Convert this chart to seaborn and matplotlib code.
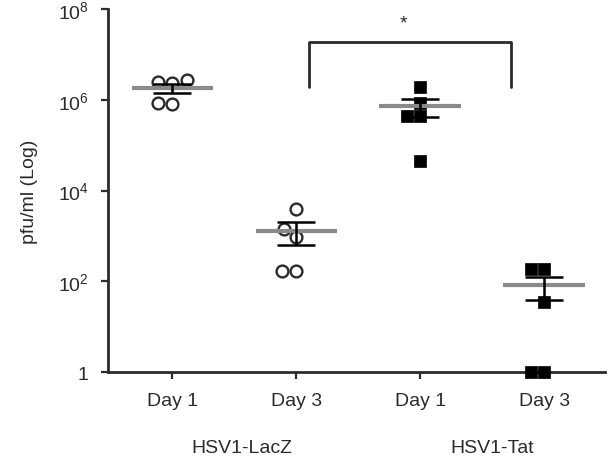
import matplotlib
matplotlib.use("Agg")
import matplotlib.pyplot as plt
import matplotlib.transforms as mtransforms
from matplotlib.ticker import NullLocator
import numpy as np
import pandas as pd
import seaborn as sns

# values (pfu/ml)
conditions = ["LacZ Day 1", "LacZ Day 3", "Tat Day 1", "Tat Day 3"]
day_labels = ["Day 1", "Day 3", "Day 1", "Day 3"]
virus_labels = ["HSV1-LacZ", "HSV1-Tat"]
lacz_day1 = [2.7e6, 2.5e6, 2.3e6, 8.5e5, 8.3e5]
lacz_day3 = [3900, 1400, 940, 170, 165]
tat_day1 = [1.9e6, 8.4e5, 4.4e5, 4.3e5, 4.4e4]
tat_day3 = [186, 184, 35, 1, 1]
y_ticks = [1, 1e2, 1e4, 1e6, 1e8]
y_ticklabels = ["1", "$10^2$", "$10^4$", "$10^6$", "$10^8$"]

df = pd.DataFrame({
    "condition": np.repeat(conditions, 5),
    "virus": np.repeat(["LacZ", "Tat"], 10),
    "pfu": lacz_day1 + lacz_day3 + tat_day1 + tat_day3,
})
stats = df.groupby("condition")["pfu"].agg(["mean", "sem"]).reindex(conditions)

sns.set_style("ticks")
plt.rcParams["font.family"] = ["Liberation Sans", "DejaVu Sans"]
plt.rcParams["mathtext.fontset"] = "custom"
plt.rcParams["mathtext.rm"] = "Liberation Sans"
plt.rcParams["mathtext.it"] = "Liberation Sans:italic"
plt.rcParams["mathtext.bf"] = "Liberation Sans:bold"

ink = "#2b2b2b"
fs = 14
fig = plt.figure(figsize=(6.1, 4.6), dpi=100)
ax = fig.add_axes([0.177, 0.189, 0.815, 0.789])
ax.set_yscale("log")

sns.swarmplot(data=df[df.virus == "LacZ"], x="condition", y="pfu", order=conditions,
              marker="o", size=8.5, color="white", edgecolor=ink, linewidth=1.7, ax=ax)
sns.swarmplot(data=df[df.virus == "Tat"], x="condition", y="pfu", order=conditions,
              marker="s", size=8.5, color="black", edgecolor="black", linewidth=0.5, ax=ax)
for coll in ax.collections:
    coll.set_clip_on(False)
    coll.set_zorder(3)

# mean line + SEM
xpos = np.arange(len(conditions))
ax.hlines(stats["mean"], xpos - 0.33, xpos + 0.33, color="#8a8a8a", lw=3, zorder=4)
ax.errorbar(xpos, stats["mean"], yerr=stats["sem"], fmt="none", ecolor="black",
            elinewidth=1.8, capsize=14, capthick=1.8, zorder=5)

# significance bracket
ax.plot([1.1, 1.1, 2.73, 2.73], [1.9e6, 1.86e7, 1.86e7, 1.9e6], color=ink, lw=2,
        clip_on=False, zorder=2)
ax.text(1.86, 5.0e7, "*", ha="center", va="center", fontsize=fs, color=ink)

ax.set_ylim(1, 1e8)
ax.set_xlim(-0.52, 3.49)
ax.set_yticks(y_ticks, y_ticklabels)
ax.yaxis.set_minor_locator(NullLocator())
ax.set_xticks(xpos, day_labels)
ax.tick_params(axis="both", direction="out", length=5, width=1.6, color=ink,
               labelsize=fs, labelcolor=ink, pad=9)
ax.set_xlabel("")
ax.set_ylabel("pfu/ml (Log)", fontsize=fs, color=ink, labelpad=14)
sns.despine(ax=ax)
for side in ["left", "bottom"]:
    ax.spines[side].set_color(ink)
    ax.spines[side].set_linewidth(2)

trans = mtransforms.blended_transform_factory(ax.transData, ax.transAxes)
ax.text(0.56, -0.207, virus_labels[0], transform=trans, ha="center", va="center",
        fontsize=fs, color=ink)
ax.text(2.58, -0.207, virus_labels[1], transform=trans, ha="center", va="center",
        fontsize=fs, color=ink)

fig.savefig("out.png", dpi=100)
